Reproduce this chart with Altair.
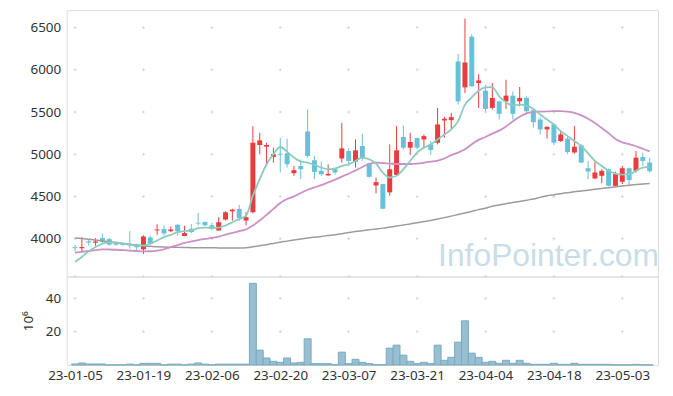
import json
import altair as alt
import pandas as pd

dates = [
    "23-01-05", "23-01-06", "23-01-09", "23-01-10", "23-01-11", "23-01-12", "23-01-13",
    "23-01-16", "23-01-17", "23-01-18", "23-01-19", "23-01-20", "23-01-25", "23-01-26",
    "23-01-27", "23-01-30", "23-01-31", "23-02-01", "23-02-02", "23-02-03", "23-02-06",
    "23-02-07", "23-02-08", "23-02-09", "23-02-10", "23-02-13", "23-02-14", "23-02-15",
    "23-02-16", "23-02-17", "23-02-20", "23-02-21", "23-02-22", "23-02-23", "23-02-24",
    "23-02-27", "23-02-28", "23-03-02", "23-03-03", "23-03-06", "23-03-07", "23-03-08",
    "23-03-09", "23-03-10", "23-03-13", "23-03-14", "23-03-15", "23-03-16", "23-03-17",
    "23-03-20", "23-03-21", "23-03-22", "23-03-23", "23-03-24", "23-03-27", "23-03-28",
    "23-03-29", "23-03-30", "23-03-31", "23-04-03", "23-04-04", "23-04-05", "23-04-06",
    "23-04-07", "23-04-10", "23-04-11", "23-04-12", "23-04-13", "23-04-14", "23-04-17",
    "23-04-18", "23-04-19", "23-04-20", "23-04-21", "23-04-24", "23-04-25", "23-04-26",
    "23-04-27", "23-04-28", "23-05-02", "23-05-03", "23-05-04", "23-05-08", "23-05-09",
    "23-05-10",
]

opens = [3900, 3888, 3970, 3953, 4008, 3996, 3955, 3945, 3922, 3930, 3875, 4016, 4098, 4114,
         4090, 4165, 4032, 4118, 4190, 4200, 4160, 4098, 4227, 4325, 4353, 4216, 4314, 5110,
         5090, 4968, 5005, 5011, 4776, 4862, 5270, 4929, 4804, 4750, 4823, 4950, 5039, 4914,
         5098, 4894, 4631, 4647, 4549, 4757, 5204, 5078, 5192, 5176, 5117, 5137, 5400, 5404,
         6098, 5792, 6392, 5843, 5753, 5549, 5627, 5627, 5694, 5627, 5667, 5521, 5411, 5294,
         5353, 5157, 5184, 5020, 5106, 4835, 4714, 4745, 4823, 4627, 4674, 4835, 4804, 4968,
         4902]
highs = [3926, 4020, 3990, 4008, 4059, 4008, 3960, 3950, 4090, 3941, 4040, 4039, 4172, 4157,
         4145, 4176, 4153, 4176, 4305, 4200, 4190, 4255, 4325, 4355, 4400, 4314, 5333, 5255,
         5137, 5078, 5196, 5184, 4862, 4941, 5529, 4980, 4914, 4880, 4843, 5372, 5070, 5176,
         5243, 4900, 4725, 4650, 5117, 5333, 5341, 5255, 5196, 5235, 5157, 5549, 5443, 5490,
         6187, 6607, 6423, 5949, 5823, 5843, 5635, 5882, 5745, 5796, 5686, 5537, 5443, 5330,
         5361, 5286, 5215, 5333, 5117, 4921, 4921, 4823, 4830, 4792, 4862, 4843, 5039, 5020,
         4960]
lows = [3850, 3850, 3920, 3918, 3941, 3918, 3918, 3918, 3882, 3870, 3820, 3937, 4047, 4039,
        4080, 4039, 4031, 4063, 4157, 4150, 4100, 4098, 4216, 4216, 4210, 4157, 4300, 5000,
        4862, 4902, 4784, 4843, 4745, 4706, 4961, 4706, 4745, 4745, 4760, 4902, 4862, 4843,
        4921, 4725, 4537, 4350, 4510, 4745, 5059, 4992, 5059, 5070, 4992, 5117, 5196, 5302,
        5588, 5725, 5800, 5549, 5510, 5529, 5411, 5537, 5411, 5568, 5470, 5314, 5235, 5188,
        5106, 5145, 5000, 5008, 4894, 4706, 4706, 4659, 4620, 4620, 4647, 4635, 4784, 4862,
        4784]
closes = [3888, 3902, 3955, 3968, 3961, 3930, 3930, 3928, 3915, 3900, 4027, 3945, 4110, 4063,
          4110, 4090, 4067, 4080, 4180, 4160, 4118, 4196, 4314, 4345, 4247, 4255, 5137, 5165,
          5110, 5000, 4995, 4882, 4812, 4823, 4980, 4792, 4765, 4768, 4784, 5070, 4921, 5047,
          4961, 4733, 4670, 4355, 4823, 5047, 5078, 5145, 5078, 5215, 5051, 5353, 5420, 5439,
          5627, 6086, 5804, 5874, 5537, 5667, 5478, 5694, 5478, 5667, 5510, 5380, 5294, 5325,
          5137, 5235, 5027, 5090, 4902, 4796, 4784, 4804, 4627, 4764, 4835, 4694, 4961, 4921,
          4800]

ma5 = [3726, 3785, 3851, 3902, 3941, 3957, 3953, 3945, 3933, 3922, 3922, 3941, 3980, 4020,
       4047, 4078, 4090, 4098, 4126, 4133, 4130, 4133, 4157, 4196, 4235, 4274, 4510, 4706,
       4882, 5000, 5086, 5031, 4961, 4914, 4902, 4874, 4843, 4823, 4831, 4862, 4882, 4921,
       4961, 4941, 4890, 4784, 4725, 4745, 4823, 4921, 5020, 5078, 5117, 5176, 5235, 5294,
       5392, 5588, 5674, 5753, 5792, 5796, 5686, 5615, 5576, 5588, 5576, 5537, 5470, 5411,
       5353, 5274, 5215, 5157, 5098, 5011, 4921, 4862, 4804, 4772, 4760, 4764, 4804, 4843,
       4850]
ma20 = [3835, 3845, 3855, 3865, 3875, 3873, 3870, 3865, 3860, 3855, 3850, 3852, 3860, 3875,
        3900, 3925, 3950, 3968, 3985, 3998, 4010, 4025, 4050, 4070, 4090, 4110, 4157, 4216,
        4282, 4353, 4423, 4470, 4501, 4541, 4580, 4608, 4635, 4667, 4700, 4735, 4770, 4810,
        4850, 4885, 4900, 4895, 4890, 4885, 4885, 4885, 4890, 4900, 4912, 4925, 4950, 4990,
        5020, 5060, 5120, 5170, 5205, 5245, 5280, 5330, 5390, 5445, 5485, 5500, 5505, 5508,
        5510, 5510, 5505, 5490, 5460, 5420, 5370, 5310, 5250, 5180, 5140, 5120, 5095, 5065,
        5035]
ma60 = [4010, 4003, 3995, 3985, 3975, 3965, 3955, 3945, 3935, 3925, 3915, 3910, 3905, 3902,
        3900, 3898, 3896, 3895, 3894, 3893, 3893, 3892, 3892, 3892, 3892, 3895, 3905, 3918,
        3930, 3945, 3960, 3972, 3985, 3997, 4008, 4018, 4028, 4038, 4047, 4060, 4073, 4086,
        4096, 4106, 4116, 4126, 4138, 4150, 4163, 4176, 4190, 4203, 4216, 4233, 4250, 4268,
        4286, 4305, 4325, 4345, 4362, 4384, 4400, 4415, 4428, 4442, 4456, 4470, 4490, 4510,
        4522, 4534, 4545, 4556, 4565, 4575, 4585, 4595, 4605, 4615, 4625, 4633, 4641, 4648,
        4655]

volumes = [0.6, 1.2, 0.6, 0.6, 0.6, 0.05, 0.05, 0.05, 0.5, 0.05, 1.0, 1.0, 1.0, 0.05,
           0.5, 0.5, 0.05, 0.5, 1.2, 0.5, 0.05, 0.5, 0.5, 0.5, 0.5, 0.5, 49.0, 8.9,
           4.2, 2.2, 1.6, 4.2, 1.2, 1.6, 15.7, 0.8, 0.8, 0.8, 0.2, 7.7, 0.8, 3.4,
           1.6, 0.8, 0.2, 0.2, 10.1, 11.9, 5.9, 2.2, 0.8, 1.6, 0.8, 11.9, 2.8, 4.6,
           13.7, 26.5, 7.1, 4.6, 1.6, 2.2, 1.0, 2.8, 1.0, 2.8, 1.0, 0.4, 0.4, 0.4,
           1.0, 0.4, 0.4, 1.0, 0.4, 0.4, 0.4, 0.4, 0.4, 0.05, 0.05, 0.05, 0.4, 0.05,
           0.05]

price_ticks = [4000, 4500, 5000, 5500, 6000, 6500]
volume_ticks = [20, 40]
x_ticks = list(range(0, 81, 10))

PRICE_DOMAIN = [3553, 6706]
VOL_DOMAIN = [0, 53.1]
X_DOMAIN = [-0.5, len(dates) - 0.5]

UP = "#ec3b3e"
DOWN = "#67c1d8"
FONT = "Noto Sans"
LABEL_SIZE = 13.5

df = pd.DataFrame({
    "i": list(range(len(dates))),
    "date": dates,
    "open": opens, "high": highs, "low": lows, "close": closes,
    "ma5": ma5, "ma20": ma20, "ma60": ma60,
    "vol": volumes,
})
df["dir"] = ["up" if c >= o else "down" for o, c in zip(opens, closes)]

label_expr = json.dumps(dates) + "[datum.value]"

x_scale = alt.Scale(domain=X_DOMAIN, nice=False, zero=False)
xq_none = alt.X("i:Q", scale=x_scale, axis=None)
color_enc = alt.Color("dir:N", scale=alt.Scale(domain=["up", "down"], range=[UP, DOWN]), legend=None)

cross_shape = "M-1,0L1,0M0,-1L0,1"
CROSS_SIZE = 8

price_y_scale = alt.Scale(domain=PRICE_DOMAIN, nice=False, zero=False)
price_axis = alt.Axis(values=price_ticks, format="d", grid=False, ticks=False, tickSize=0,
                      domain=False, labelPadding=6, labelFontSize=LABEL_SIZE,
                      labelColor="#333333", labelFont=FONT, title=None)

price_cross_df = pd.DataFrame([(x, y) for x in x_ticks for y in price_ticks],
                              columns=["x", "y"])
price_cross = alt.Chart(price_cross_df).mark_point(
    shape=cross_shape, size=CROSS_SIZE, filled=False, stroke="#d6d6d6", strokeWidth=1, opacity=1
).encode(
    x=alt.X("x:Q", scale=x_scale, axis=None),
    y=alt.Y("y:Q", scale=price_y_scale, axis=price_axis),
)

base = alt.Chart(df)

wicks = base.mark_rule(strokeWidth=1).encode(
    x=xq_none,
    y=alt.Y("low:Q", scale=price_y_scale, axis=price_axis),
    y2="high:Q",
    color=color_enc,
)
bodies = base.mark_bar(size=5).encode(
    x=xq_none,
    y=alt.Y("open:Q", scale=price_y_scale, axis=price_axis),
    y2="close:Q",
    color=color_enc,
)


def ma_line(field, color, width):
    return base.mark_line(strokeWidth=width, color=color, interpolate="monotone").encode(
        x=xq_none,
        y=alt.Y(f"{field}:Q", scale=price_y_scale, axis=price_axis),
    )


line60 = ma_line("ma60", "#9c9c9c", 1.5)
line20 = ma_line("ma20", "#cc8fc6", 1.8)
line5 = ma_line("ma5", "#8ccbbd", 1.8)

watermark = alt.Chart(pd.DataFrame({"t": ["InfoPointer.com"]})).mark_text(
    font="Liberation Sans", fontSize=32, color="#c9dde8", align="right", baseline="alphabetic"
).encode(
    text="t:N",
    x=alt.value(596),
    y=alt.value(257),
)

price_panel = alt.layer(
    price_cross, watermark, wicks, bodies, line60, line20, line5
).properties(width=595, height=268)

vol_y_scale = alt.Scale(domain=VOL_DOMAIN, nice=False, zero=True)
vol_axis = alt.Axis(values=volume_ticks, grid=False, ticks=False, tickSize=0, domain=False,
                    labelPadding=6, labelFontSize=LABEL_SIZE, labelColor="#333333", labelFont=FONT,
                    title="10\u2076", titleFont=FONT, titleFontSize=LABEL_SIZE,
                    titleFontWeight="normal", titleColor="#333333", titlePadding=10)
x_axis = alt.Axis(values=x_ticks, labelExpr=label_expr, grid=False, ticks=False, tickSize=0,
                  domain=False, labelPadding=4, labelFontSize=LABEL_SIZE, labelColor="#333333",
                  labelFont=FONT, title=None, labelAngle=0, labelFlush=False, labelOverlap=False)

vol_cross_df = pd.DataFrame([(x, y) for x in x_ticks for y in volume_ticks + [VOL_DOMAIN[1]]],
                            columns=["x", "y"])
vol_cross = alt.Chart(vol_cross_df).mark_point(
    shape=cross_shape, size=CROSS_SIZE, filled=False, stroke="#d6d6d6", strokeWidth=1, opacity=1
).encode(
    x=alt.X("x:Q", scale=x_scale, axis=x_axis),
    y=alt.Y("y:Q", scale=vol_y_scale, axis=vol_axis),
)

vol_bars = base.mark_bar(size=7, fill="#97bfd1", stroke="#7aa9bf", strokeWidth=1).encode(
    x=alt.X("i:Q", scale=x_scale, axis=x_axis),
    y=alt.Y("vol:Q", scale=vol_y_scale, axis=vol_axis),
)

vol_panel = alt.layer(vol_cross, vol_bars).properties(width=595, height=89)

chart = alt.vconcat(price_panel, vol_panel, spacing=0, bounds="flush").properties(
    padding={"left": 13, "top": 0, "right": 5, "bottom": 5}
).configure_view(
    stroke="#e4e4e4", strokeWidth=1
).configure(background="white")

chart.save("out.html", embed_options={"renderer": "svg", "actions": False})
